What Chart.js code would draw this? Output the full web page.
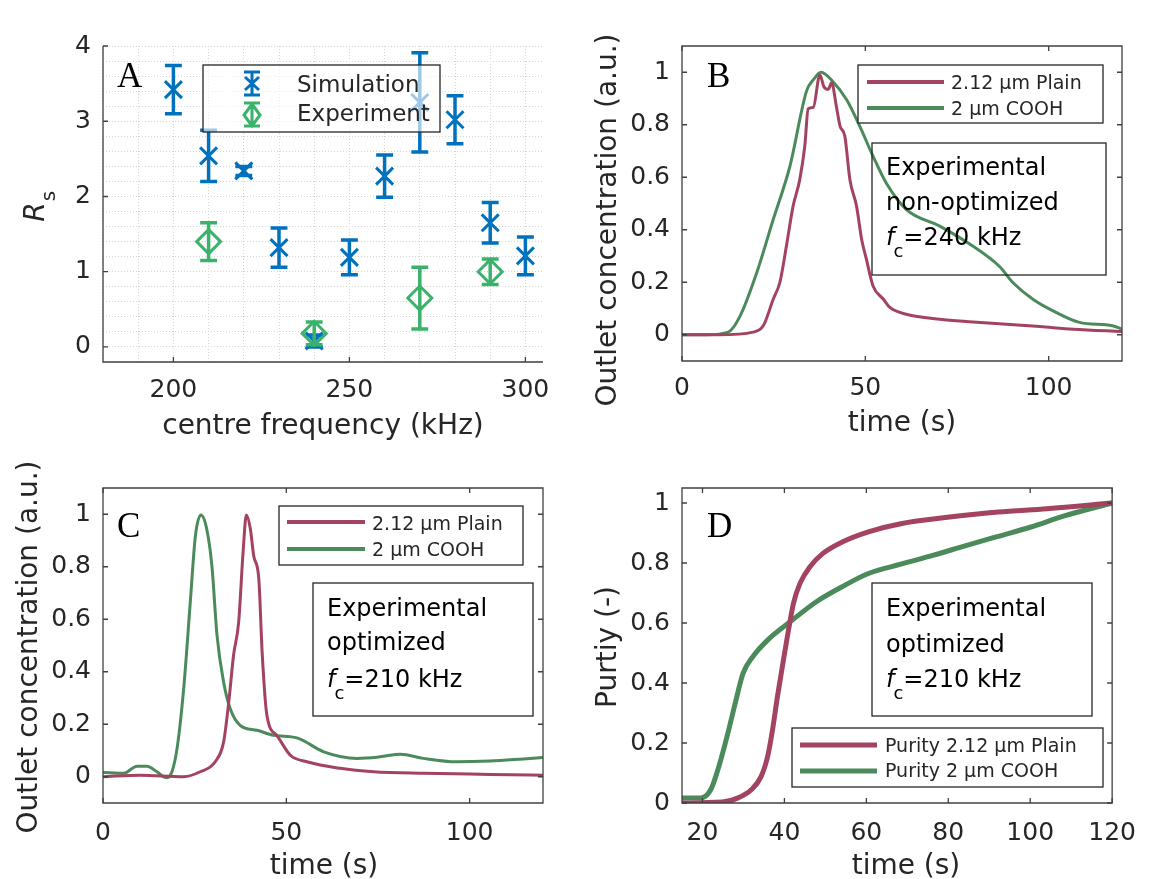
<!DOCTYPE html>
<html>
<head>
<meta charset="utf-8">
<script src="https://cdn.jsdelivr.net/npm/chart.js@4.4.0/dist/chart.umd.min.js"></script>
<style>
  html, body { margin: 0; padding: 0; background: #fff; }
  #wrap { position: relative; width: 1151px; height: 879px; overflow: hidden; }
  canvas { position: absolute; }
</style>
</head>
<body>
<div id="wrap">
  <canvas id="cA" width="575" height="440" style="left:0;top:0"></canvas>
  <canvas id="cB" width="576" height="440" style="left:575px;top:0"></canvas>
  <canvas id="cC" width="575" height="439" style="left:0;top:440px"></canvas>
  <canvas id="cD" width="576" height="439" style="left:575px;top:440px"></canvas>
</div>
<script>
// ---------- DATA ----------
// Panel A: resolution R_s against centre frequency (kHz), value +/- error
const simFreq = [200, 210, 220, 230, 240, 250, 260, 270, 280, 290, 300];
const simRs   = [3.42, 2.54, 2.34, 1.32, 0.08, 1.19, 2.27, 3.25, 3.02, 1.65, 1.21];
const simErr  = [0.32, 0.34, 0.06, 0.26, 0.08, 0.23, 0.28, 0.66, 0.32, 0.27, 0.25];
const expFreq = [210, 240, 270, 290];
const expRs   = [1.40, 0.18, 0.65, 1.00];
const expErr  = [0.25, 0.15, 0.41, 0.17];

// Panel B: outlet concentration, non-optimized (240 kHz)
const bPlainT = [0, 10, 19.4, 22.2, 24.9, 26.7, 28.5, 30.3, 32.1, 33.5, 34.4, 35.8, 37.6, 38.7, 39.9, 40.8, 42.1, 43.1, 44.4, 45.8, 47.6, 49, 50.3, 52.1, 54.9, 56.7, 61.2, 70.3, 79.4, 88.5, 97.6, 106.7, 120];
const bPlainV = [0, 0, 0.01, 0.035, 0.136, 0.2, 0.34, 0.49, 0.59, 0.72, 0.86, 0.866, 0.99, 0.945, 0.935, 0.96, 0.87, 0.795, 0.757, 0.59, 0.49, 0.363, 0.287, 0.186, 0.136, 0.104, 0.078, 0.059, 0.049, 0.04, 0.031, 0.021, 0.012];
const bCoohT  = [0, 6.7, 12.6, 15.8, 20.4, 24.9, 29.4, 34, 35.8, 37.9, 41.2, 44.9, 48.5, 52.1, 55.7, 61.2, 70.3, 79.4, 86.6, 90.3, 95.7, 102, 108.4, 117.4, 120];
const bCoohV  = [0, 0, 0.01, 0.07, 0.237, 0.44, 0.64, 0.93, 0.971, 1.0, 0.964, 0.895, 0.794, 0.68, 0.578, 0.477, 0.414, 0.337, 0.26, 0.198, 0.135, 0.085, 0.047, 0.034, 0.022];

// Panel C: outlet concentration, optimized (210 kHz)
const cPlainT = [0, 10.2, 22, 26.5, 30.6, 32.9, 34.3, 35.6, 37, 38.2, 39.1, 40.2, 41.1, 42.5, 43.4, 44.7, 47.4, 51.1, 55.6, 64.7, 73.8, 87.4, 105.6, 120];
const cPlainV = [0, 0.006, 0, 0.019, 0.057, 0.133, 0.285, 0.462, 0.589, 0.855, 0.997, 0.943, 0.842, 0.753, 0.475, 0.234, 0.158, 0.082, 0.057, 0.032, 0.019, 0.013, 0.009, 0.006];
const cCoohT  = [0, 5.6, 9.3, 12, 14.7, 17.4, 18.8, 20.2, 22, 23.8, 25.2, 26.7, 28.3, 29.7, 31.1, 32.9, 34.7, 37.4, 42, 46.5, 52.9, 60.2, 69.3, 75.6, 81.1, 87.4, 96.5, 105.6, 114.7, 120];
const cCoohV  = [0.016, 0.013, 0.04, 0.04, 0.019, -0.004, 0.019, 0.108, 0.335, 0.664, 0.917, 0.997, 0.943, 0.803, 0.538, 0.36, 0.259, 0.196, 0.177, 0.158, 0.148, 0.095, 0.07, 0.076, 0.086, 0.07, 0.057, 0.06, 0.068, 0.073];

// Panel D: purity, optimized (210 kHz)
const dPlainT = [15, 24.8, 28.7, 31.9, 34.3, 35.9, 37.1, 38.3, 39.9, 41, 42.2, 43.8, 46.2, 49.4, 54.1, 60.5, 68.4, 80.3, 92.2, 104.1, 120];
const dPlainV = [0, 0.003, 0.017, 0.044, 0.088, 0.155, 0.244, 0.355, 0.488, 0.577, 0.665, 0.732, 0.787, 0.832, 0.870, 0.904, 0.931, 0.953, 0.970, 0.981, 1.0];
const dCoohT  = [15, 19.6, 22, 24, 26, 28, 29.9, 32.3, 35.9, 41.4, 47.8, 54.1, 60.5, 68.4, 76.4, 84.3, 92.2, 100.2, 108.1, 120];
const dCoohV  = [0.017, 0.017, 0.044, 0.122, 0.222, 0.333, 0.432, 0.488, 0.543, 0.604, 0.671, 0.721, 0.765, 0.796, 0.826, 0.858, 0.889, 0.92, 0.956, 1.0];

// Ticks / grid positions
const aGridX  = [180, 190, 200, 210, 220, 230, 240, 250, 260, 270, 280, 290, 300];
const aTickX  = [200, 250, 300];
const aGridY  = [-0.2, 0, 0.2, 0.4, 0.6, 0.8, 1, 1.2, 1.4, 1.6, 1.8, 2, 2.2, 2.4, 2.6, 2.8, 3, 3.2, 3.4, 3.6, 3.8, 4];
const aTickY  = [0, 1, 2, 3, 4];
const concTickX = [0, 50, 100];
const unitTickY = [0, 0.2, 0.4, 0.6, 0.8, 1];
const purTickX  = [20, 40, 60, 80, 100, 120];

// ---------- STYLE ----------
const FONT = '"DejaVu Sans", "Liberation Sans", sans-serif';
const INK = '#262626';
const AXIS = '#404040';
const BLUE = '#0072bd';
const LGREEN = '#3bb26a';
const PLAIN = '#a3435f';
const COOH = '#4b8b5b';
const CAP = 2.4;   // error-bar cap half width in kHz
const TICK = 5;    // inward tick length px

const pts = (xs, ys) => xs.map((x, i) => ({ x, y: ys[i] }));

// error bars as line segments, separated by gaps
function errSegments(xs, ys, es) {
  const out = [];
  xs.forEach((x, i) => {
    const lo = ys[i] - es[i], hi = ys[i] + es[i];
    out.push({ x, y: lo }, { x, y: hi }, { x, y: null });
    out.push({ x: x - CAP, y: hi }, { x: x + CAP, y: hi }, { x, y: null });
    out.push({ x: x - CAP, y: lo }, { x: x + CAP, y: lo }, { x, y: null });
  });
  return out;
}

// ---------- DECORATION PLUGIN ----------
// axes box, inward ticks, panel letter, axis titles, legends, text boxes
function decor(p) {
  return {
    id: 'decor' + p.key,
    afterDatasetsDraw(chart) {
      const ctx = chart.ctx, ca = chart.chartArea;
      const xs = chart.scales.x, ys = chart.scales.y;
      const [ox, oy] = p.off;
      ctx.save();
      ctx.translate(-ox, -oy); // from here on use page coordinates
      const L = ca.left + ox, R = ca.right + ox, T = ca.top + oy, B = ca.bottom + oy;

      // axes
      ctx.strokeStyle = AXIS; ctx.lineWidth = 1.3;
      ctx.beginPath();
      if (p.box) ctx.rect(L, T, R - L, B - T);
      else { ctx.moveTo(L, T); ctx.lineTo(L, B); ctx.lineTo(R, B); }
      ctx.stroke();

      // inward ticks
      ctx.beginPath();
      p.tickX.forEach(v => {
        const x = xs.getPixelForValue(v) + ox;
        ctx.moveTo(x, B); ctx.lineTo(x, B - TICK);
        if (p.box) { ctx.moveTo(x, T); ctx.lineTo(x, T + TICK); }
      });
      p.tickY.forEach(v => {
        const y = ys.getPixelForValue(v) + oy;
        ctx.moveTo(L, y); ctx.lineTo(L + TICK, y);
        if (p.box) { ctx.moveTo(R, y); ctx.lineTo(R - TICK, y); }
      });
      ctx.stroke();

      // panel letter
      ctx.fillStyle = '#000';
      ctx.font = '35px "Liberation Serif", serif';
      ctx.textAlign = 'left'; ctx.textBaseline = 'alphabetic';
      ctx.fillText(p.letter, p.letterAt[0], p.letterAt[1]);

      // x title
      ctx.fillStyle = INK;
      ctx.font = '28px ' + FONT;
      ctx.textAlign = 'center';
      ctx.fillText(p.xTitle, p.xTitleAt[0], p.xTitleAt[1]);

      // y title (rotated)
      ctx.save();
      ctx.translate(p.yTitleAt[0], p.yTitleAt[1]);
      ctx.rotate(-Math.PI / 2);
      if (p.yTitle === 'R_s') {
        ctx.textAlign = 'left';
        ctx.font = 'italic 28px ' + FONT;
        const w = ctx.measureText('R').width;
        ctx.fillText('R', -w / 2 - 5, 0);
        ctx.font = '20px ' + FONT;
        ctx.fillText('s', w / 2 - 4, 11);
      } else {
        ctx.textAlign = 'center';
        ctx.fillText(p.yTitle, 0, 0);
      }
      ctx.restore();

      if (p.legendA) drawLegendA(ctx);
      if (p.legend) drawLegend(ctx, p.legend);
      if (p.note) drawNote(ctx, p.note);
      ctx.restore();
    }
  };
}

function drawLegendA(ctx) {
  ctx.fillStyle = 'rgba(255,255,255,0.62)';
  ctx.fillRect(203, 65, 237, 67);
  ctx.strokeStyle = INK; ctx.lineWidth = 1.3;
  ctx.strokeRect(203, 65, 237, 67);
  const ix = 252;
  // simulation icon: error bar + x
  ctx.strokeStyle = BLUE; ctx.lineWidth = 3;
  ctx.beginPath();
  ctx.moveTo(ix, 72); ctx.lineTo(ix, 95);
  ctx.moveTo(ix - 8, 72); ctx.lineTo(ix + 8, 72);
  ctx.moveTo(ix - 8, 95); ctx.lineTo(ix + 8, 95);
  ctx.moveTo(ix - 7, 77); ctx.lineTo(ix + 7, 90);
  ctx.moveTo(ix + 7, 77); ctx.lineTo(ix - 7, 90);
  ctx.stroke();
  // experiment icon: error bar + diamond
  ctx.strokeStyle = LGREEN;
  ctx.beginPath();
  ctx.moveTo(ix, 103); ctx.lineTo(ix, 126);
  ctx.moveTo(ix - 8, 103); ctx.lineTo(ix + 8, 103);
  ctx.moveTo(ix - 8, 126); ctx.lineTo(ix + 8, 126);
  ctx.moveTo(ix, 104); ctx.lineTo(ix + 8, 115); ctx.lineTo(ix, 126); ctx.lineTo(ix - 8, 115); ctx.closePath();
  ctx.stroke();
  ctx.fillStyle = INK;
  ctx.font = '23px ' + FONT;
  ctx.textAlign = 'left';
  ctx.fillText('Simulation', 297, 92);
  ctx.fillText('Experiment', 297, 121);
}

function drawLegend(ctx, lg) {
  const [x1, y1, x2, y2] = lg.box;
  ctx.fillStyle = '#fff';
  ctx.fillRect(x1, y1, x2 - x1, y2 - y1);
  ctx.strokeStyle = INK; ctx.lineWidth = 1.3;
  ctx.strokeRect(x1, y1, x2 - x1, y2 - y1);
  ctx.font = lg.size + 'px ' + FONT;
  ctx.textAlign = 'left';
  lg.items.forEach(it => {
    ctx.strokeStyle = it.color; ctx.lineWidth = lg.lw;
    ctx.beginPath(); ctx.moveTo(lg.lx[0], it.y); ctx.lineTo(lg.lx[1], it.y); ctx.stroke();
    ctx.fillStyle = INK;
    ctx.fillText(it.text, lg.tx, it.base);
  });
}

function drawNote(ctx, n) {
  const [x1, y1, x2, y2] = n.box;
  ctx.strokeStyle = INK; ctx.lineWidth = 1.3;
  ctx.strokeRect(x1, y1, x2 - x1, y2 - y1);
  ctx.fillStyle = '#000';
  ctx.textAlign = 'left';
  ctx.font = '24px ' + FONT;
  ctx.fillText('Experimental', n.x, n.base[0]);
  ctx.fillText(n.line2, n.x, n.base[1]);
  ctx.font = 'italic 24px ' + FONT;
  ctx.fillText('f', n.x, n.base[2]);
  const wf = ctx.measureText('f').width;
  ctx.font = '18px ' + FONT;
  ctx.fillText('c', n.x + wf - 1, n.base[2] + 12);
  const wc = ctx.measureText('c').width;
  ctx.font = '24px ' + FONT;
  ctx.fillText(n.line3, n.x + wf + wc - 1, n.base[2]);
}

// ---------- CHART FACTORY ----------
function makeChart(id, datasets, c, p) {
  const tickFont = { family: FONT, size: 25 };
  return new Chart(document.getElementById(id), {
    type: 'scatter',
    data: { datasets },
    options: {
      responsive: false,
      animation: false,
      layout: { padding: { top: c.padTop, right: c.padRight, left: 0, bottom: 0 } },
      plugins: { legend: { display: false }, tooltip: { enabled: false } },
      elements: { line: { cubicInterpolationMode: 'monotone' } },
      scales: {
        x: {
          type: 'linear', min: c.xMin, max: c.xMax,
          afterBuildTicks: s => { s.ticks = c.xTicks.map(v => ({ value: v })); },
          afterFit: s => { s.height = c.xH; },
          grid: c.grid ? { display: true, color: '#d4d4d4', lineWidth: 1, drawTicks: false } : { display: false, drawTicks: false },
          border: { display: false, dash: [1, 2] },
          ticks: { font: tickFont, color: INK, padding: c.xPad, autoSkip: false, maxRotation: 0,
                   callback: v => (c.xLabels.includes(v) ? String(v) : '') }
        },
        y: {
          type: 'linear', min: c.yMin, max: c.yMax,
          afterBuildTicks: s => { s.ticks = c.yTicks.map(v => ({ value: v })); },
          afterFit: s => { s.width = c.yW; },
          grid: c.grid ? { display: true, color: '#d4d4d4', lineWidth: 1, drawTicks: false } : { display: false, drawTicks: false },
          border: { display: false, dash: [1, 2] },
          ticks: { font: tickFont, color: INK, padding: 12, autoSkip: false,
                   callback: v => (c.yLabels.includes(v) ? String(v) : '') }
        }
      }
    },
    plugins: [decor(p)]
  });
}

const curve = (xs, ys, color, w) => ({
  data: pts(xs, ys), showLine: true, borderColor: color, borderWidth: w,
  pointRadius: 0, fill: false
});

// ---------- PANEL A ----------
makeChart('cA', [
  { data: pts(expFreq, expRs), pointStyle: 'rectRot', pointRadius: 12, borderColor: LGREEN,
    backgroundColor: 'rgba(0,0,0,0)', borderWidth: 3 },
  { data: errSegments(expFreq, expRs, expErr), showLine: true, spanGaps: false, borderColor: LGREEN,
    borderWidth: 3.5, pointRadius: 0, cubicInterpolationMode: 'default', tension: 0 },
  { data: pts(simFreq, simRs), pointStyle: 'crossRot', pointRadius: 12, borderColor: BLUE, borderWidth: 3 },
  { data: errSegments(simFreq, simRs, simErr), showLine: true, spanGaps: false, borderColor: BLUE,
    borderWidth: 3.5, pointRadius: 0, cubicInterpolationMode: 'default', tension: 0 }
], { padTop: 46, padRight: 32, yW: 103, xH: 78, xMin: 180, xMax: 305, yMin: -0.2, yMax: 4,
     xTicks: aGridX, yTicks: aGridY, xLabels: aTickX, yLabels: aTickY, grid: true, xPad: 13 },
   { key: 'A', off: [0, 0], box: false, tickX: aTickX, tickY: aTickY, letter: 'A', letterAt: [117, 87],
     xTitle: 'centre frequency (kHz)', xTitleAt: [323, 434], yTitle: 'R_s', yTitleAt: [44, 207], legendA: true });

// ---------- PANEL B ----------
makeChart('cB', [
  curve(bPlainT, bPlainV, PLAIN, 3),
  curve(bCoohT, bCoohV, COOH, 3)
], { padTop: 46, padRight: 29, yW: 107, xH: 79, xMin: 0, xMax: 120, yMin: -0.1, yMax: 1.1,
     xTicks: concTickX, yTicks: unitTickY, xLabels: concTickX, yLabels: unitTickY, grid: false, xPad: 12 },
   { key: 'B', off: [575, 0], box: true, tickX: concTickX, tickY: unitTickY, letter: 'B', letterAt: [707, 87],
     xTitle: 'time (s)', xTitleAt: [902, 431], yTitle: 'Outlet concentration (a.u.)', yTitleAt: [616, 220],
     legend: { box: [858, 65, 1103, 123], lx: [867, 944], tx: 951, size: 19, lw: 4,
               items: [{ color: PLAIN, text: '2.12 µm Plain', y: 82, base: 89 },
                       { color: COOH, text: '2 µm COOH', y: 108, base: 115 }] },
     note: { box: [872, 143, 1106, 275], x: 886, base: [175, 210, 245], line2: 'non-optimized', line3: '=240 kHz' } });

// ---------- PANEL C ----------
makeChart('cC', [
  curve(cPlainT, cPlainV, PLAIN, 3),
  curve(cCoohT, cCoohV, COOH, 3)
], { padTop: 48, padRight: 32, yW: 103, xH: 76, xMin: 0, xMax: 120, yMin: -0.1, yMax: 1.1,
     xTicks: concTickX, yTicks: unitTickY, xLabels: concTickX, yLabels: unitTickY, grid: false, xPad: 15 },
   { key: 'C', off: [0, 440], box: true, tickX: concTickX, tickY: unitTickY, letter: 'C', letterAt: [117, 537],
     xTitle: 'time (s)', xTitleAt: [324, 874], yTitle: 'Outlet concentration (a.u.)', yTitleAt: [37, 647],
     legend: { box: [279, 506, 523, 565], lx: [287, 365], tx: 372, size: 19, lw: 4,
               items: [{ color: PLAIN, text: '2.12 µm Plain', y: 522, base: 530 },
                       { color: COOH, text: '2 µm COOH', y: 549, base: 556 }] },
     note: { box: [313, 583, 533, 716], x: 327, base: [616, 650, 687], line2: 'optimized', line3: '=210 kHz' } });

// ---------- PANEL D ----------
makeChart('cD', [
  curve(dPlainT, dPlainV, PLAIN, 5),
  curve(dCoohT, dCoohV, COOH, 5)
], { padTop: 48, padRight: 29, yW: 107, xH: 76, xMin: 15, xMax: 120, yMin: 0, yMax: 1.05,
     xTicks: purTickX, yTicks: unitTickY, xLabels: purTickX, yLabels: unitTickY, grid: false, xPad: 15 },
   { key: 'D', off: [575, 440], box: true, tickX: purTickX, tickY: unitTickY, letter: 'D', letterAt: [707, 537],
     xTitle: 'time (s)', xTitleAt: [906, 874], yTitle: 'Purtiy (-)', yTitleAt: [616, 647],
     legend: { box: [792, 728, 1103, 787], lx: [800, 877], tx: 885, size: 19, lw: 5,
               items: [{ color: PLAIN, text: 'Purity 2.12 µm Plain', y: 745, base: 752 },
                       { color: COOH, text: 'Purity 2 µm COOH', y: 771, base: 777 }] },
     note: { box: [872, 583, 1092, 716], x: 886, base: [616, 652, 687], line2: 'optimized', line3: '=210 kHz' } });
</script>
</body>
</html>
